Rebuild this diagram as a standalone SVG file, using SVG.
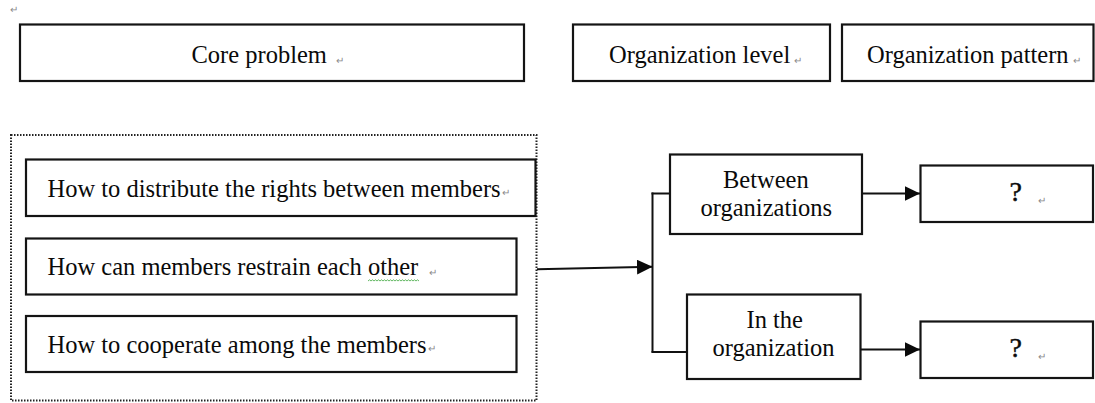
<svg xmlns="http://www.w3.org/2000/svg" width="1095" height="403" viewBox="0 0 1095 403">
  <style>
    .box { fill: #ffffff; stroke: #141414; stroke-width: 2.2; }
    .frame { fill: none; stroke: #222222; stroke-width: 2; stroke-dasharray: 1.5 1.5; }
    .lbl { font-family: "Liberation Serif", "Times New Roman", serif; font-size: 24.5px; fill: #0a0a0a; }
    .qm { font-family: "Liberation Serif", "Times New Roman", serif; font-size: 28px; fill: #0a0a0a; stroke: #0a0a0a; stroke-width: 0.4; }
    .mark { font-family: "Liberation Sans", Arial, sans-serif; font-size: 10px; fill: #8a8a8a; }
    .wire { fill: none; stroke: #111111; stroke-width: 2; }
  </style>
  <defs>
    <marker id="tip" markerUnits="userSpaceOnUse" markerWidth="17" markerHeight="17" refX="15.5" refY="7.5" orient="auto">
      <path d="M0,0 L15.5,7.5 L0,15 z" fill="#0a0a0a"/>
    </marker>
  </defs>

  <!-- paragraph mark at page top -->
  <text class="mark" x="10" y="13">↵</text>

  <!-- column headers -->
  <g id="header-core">
    <rect class="box" x="20" y="24.5" width="504" height="56.5"/>
    <text class="lbl" x="191.5" y="63">Core problem</text>
    <text class="mark" x="336" y="64">↵</text>
  </g>
  <g id="header-level">
    <rect class="box" x="573" y="24.5" width="257" height="56.5"/>
    <text class="lbl" x="609" y="63">Organization level</text>
    <text class="mark" x="794" y="64">↵</text>
  </g>
  <g id="header-pattern">
    <rect class="box" x="842" y="24.5" width="251.5" height="56.5"/>
    <text class="lbl" x="867" y="63">Organization pattern</text>
    <text class="mark" x="1073" y="64">↵</text>
  </g>

  <!-- core problems -->
  <g id="problem-group">
    <rect class="frame" x="11" y="135" width="525.5" height="265.5"/>
  </g>
  <g id="problem-rights">
    <rect class="box" x="26" y="159.5" width="509.5" height="56.5"/>
    <text class="lbl" x="47.5" y="197">How to distribute the rights between members</text>
    <text class="mark" x="502" y="196">↵</text>
  </g>
  <g id="problem-restrain">
    <rect class="box" x="26" y="238.5" width="490.5" height="56"/>
    <text class="lbl" x="47.5" y="275">How can members restrain each other</text>
    <text class="mark" x="429" y="276">↵</text>
    <path d="M368,281 l1.5,-1.2 l1.5,1.2 l1.5,-1.2 l1.5,1.2 l1.5,-1.2 l1.5,1.2 l1.5,-1.2 l1.5,1.2 l1.5,-1.2 l1.5,1.2 l1.5,-1.2 l1.5,1.2 l1.5,-1.2 l1.5,1.2 l1.5,-1.2 l1.5,1.2 l1.5,-1.2 l1.5,1.2 l1.5,-1.2 l1.5,1.2 l1.5,-1.2 l1.5,1.2 l1.5,-1.2 l1.5,1.2 l1.5,-1.2 l1.5,1.2 l1.5,-1.2 l1.5,1.2 l1.5,-1.2 l1.5,1.2 l1.5,-1.2 l1.5,1.2 l1.5,-1.2 l1.5,1.2" fill="none" stroke="#3aa63a" stroke-width="0.8"/>
  </g>
  <g id="problem-cooperate">
    <rect class="box" x="26" y="316" width="490.5" height="56"/>
    <text class="lbl" x="47.5" y="352.5">How to cooperate among the members</text>
    <text class="mark" x="428" y="352">↵</text>
  </g>

  <!-- organization levels -->
  <g id="level-between">
    <rect class="box" x="670" y="154.5" width="192" height="79.5"/>
    <text class="lbl" x="723" y="188">Between</text>
    <text class="lbl" x="700.5" y="215.5">organizations</text>
  </g>
  <g id="level-within">
    <rect class="box" x="687" y="294.5" width="173.5" height="84.5"/>
    <text class="lbl" x="746.5" y="328">In the</text>
    <text class="lbl" x="712.5" y="356">organization</text>
  </g>

  <!-- organization patterns -->
  <g id="pattern-between">
    <rect class="box" x="920.5" y="165.5" width="172.5" height="56.5"/>
    <text class="qm" x="1009.5" y="201">?</text>
    <text class="mark" x="1038" y="204">↵</text>
  </g>
  <g id="pattern-within">
    <rect class="box" x="920.5" y="321.5" width="172.5" height="56.5"/>
    <text class="qm" x="1009.5" y="357">?</text>
    <text class="mark" x="1038" y="360">↵</text>
  </g>

  <!-- connectors -->
  <g id="connectors">
    <path class="wire" d="M537,269.3 L652.5,266.7" marker-end="url(#tip)"/>
    <path class="wire" d="M652.5,192.5 V352.5"/>
    <path class="wire" d="M651.5,193.5 H670"/>
    <path class="wire" d="M651.5,352 H687"/>
    <path class="wire" d="M862,193.5 H920" marker-end="url(#tip)"/>
    <path class="wire" d="M860.5,349.5 H920" marker-end="url(#tip)"/>
  </g>
</svg>
